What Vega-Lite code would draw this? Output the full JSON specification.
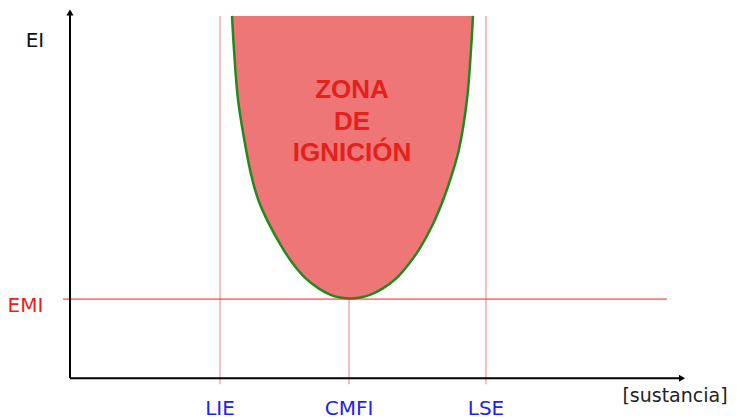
{
  "$schema": "https://vega.github.io/schema/vega-lite/v6.json",
  "width": 738,
  "height": 419,
  "autosize": {"type": "fit", "contains": "padding"},
  "padding": 0,
  "background": "white",
  "config": {"view": {"stroke": null}},
  "data": {"values": [{}]},
  "datasets": {
    "zone": [
      {"y": 36.4, "xl": 16.2, "xr": 40.3},
      {"y": 33.0, "xl": 16.4, "xr": 40.1},
      {"y": 28.0, "xl": 16.8, "xr": 39.7},
      {"y": 23.0, "xl": 17.6, "xr": 38.9},
      {"y": 20.5, "xl": 18.1, "xr": 38.2},
      {"y": 18.0, "xl": 18.8, "xr": 37.35},
      {"y": 15.5, "xl": 19.9, "xr": 36.3},
      {"y": 13.0, "xl": 21.3, "xr": 34.95},
      {"y": 11.5, "xl": 22.3, "xr": 33.9},
      {"y": 10.0, "xl": 23.6, "xr": 32.6},
      {"y": 9.0, "xl": 24.9, "xr": 31.25},
      {"y": 8.4, "xl": 26.0, "xr": 30.05},
      {"y": 8.1, "xl": 27.0, "xr": 29.0},
      {"y": 8.0, "xl": 28.0, "xr": 28.0}
    ],
    "guides": [
      {"name": "LIE", "x": 15},
      {"name": "CMFI", "x": 27.9},
      {"name": "LSE", "x": 41.6}
    ]
  },
  "layer": [
    {
      "data": {"name": "guides"},
      "mark": {"type": "rule", "color": "#e49a9a", "strokeWidth": 1.2},
      "encoding": {
        "x": {"field": "x", "type": "quantitative", "scale": {"domain": [-7, 66.8], "nice": false, "zero": false}, "axis": null},
        "y": {"datum": 36.4, "type": "quantitative", "scale": {"domain": [-3.9, 38], "nice": false, "zero": false}, "axis": null},
        "y2": {"datum": -0.6}
      }
    },
    {
      "data": {"name": "zone"},
      "mark": {"type": "area", "orient": "horizontal", "interpolate": "catmull-rom", "color": "#ee7676", "opacity": 1},
      "encoding": {
        "y": {"field": "y", "type": "quantitative"},
        "x": {"field": "xl", "type": "quantitative"},
        "x2": {"field": "xr"}
      }
    },
    {
      "data": {"name": "zone"},
      "transform": [
        {"fold": ["xl", "xr"], "as": ["side", "x"]},
        {"filter": "!(datum.side == 'xr' && datum.y == 8)"}
      ],
      "mark": {"type": "line", "interpolate": "catmull-rom", "color": "#1f8a1f", "strokeWidth": 2.5},
      "encoding": {
        "x": {"field": "x", "type": "quantitative"},
        "y": {"field": "y", "type": "quantitative"}
      }
    },
    {
      "mark": {"type": "rule", "color": "#f52020", "strokeWidth": 1},
      "encoding": {
        "y": {"datum": 7.95, "type": "quantitative"},
        "x": {"datum": -0.7, "type": "quantitative"},
        "x2": {"datum": 59.7}
      }
    },
    {
      "mark": {"type": "rule", "color": "black", "strokeWidth": 2},
      "encoding": {
        "x": {"datum": 0, "type": "quantitative"},
        "y": {"datum": 0, "type": "quantitative"},
        "y2": {"datum": 36.6}
      }
    },
    {
      "mark": {"type": "rule", "color": "black", "strokeWidth": 2},
      "encoding": {
        "y": {"datum": 0, "type": "quantitative"},
        "x": {"datum": 0, "type": "quantitative"},
        "x2": {"datum": 61.0}
      }
    },
    {
      "mark": {"type": "point", "shape": "triangle-up", "filled": true, "color": "black", "size": 50, "opacity": 1},
      "encoding": {
        "x": {"datum": 0, "type": "quantitative"},
        "y": {"datum": 36.75, "type": "quantitative"}
      }
    },
    {
      "mark": {"type": "point", "shape": "triangle-right", "filled": true, "color": "black", "size": 50, "opacity": 1},
      "encoding": {
        "x": {"datum": 61.2, "type": "quantitative"},
        "y": {"datum": 0, "type": "quantitative"}
      }
    },
    {
      "data": {"name": "guides"},
      "mark": {"type": "text", "font": "DejaVu Sans", "fontSize": 20, "color": "#2222ee", "align": "center", "baseline": "alphabetic"},
      "encoding": {
        "x": {"field": "x", "type": "quantitative"},
        "y": {"datum": -3.7, "type": "quantitative"},
        "text": {"field": "name"}
      }
    },
    {
      "mark": {"type": "text", "font": "DejaVu Sans", "fontSize": 20, "color": "#f01c1c", "align": "center", "baseline": "alphabetic", "text": "EMI"},
      "encoding": {
        "x": {"datum": -4.45, "type": "quantitative"},
        "y": {"datum": 6.7, "type": "quantitative"}
      }
    },
    {
      "mark": {"type": "text", "font": "DejaVu Sans", "fontSize": 20, "color": "#111111", "align": "center", "baseline": "alphabetic", "text": "EI"},
      "encoding": {
        "x": {"datum": -3.5, "type": "quantitative"},
        "y": {"datum": 33.3, "type": "quantitative"}
      }
    },
    {
      "mark": {"type": "text", "font": "DejaVu Sans", "fontSize": 19, "color": "#222222", "align": "center", "baseline": "alphabetic", "text": "[sustancia]"},
      "encoding": {
        "x": {"datum": 60.5, "type": "quantitative"},
        "y": {"datum": -2.4, "type": "quantitative"}
      }
    },
    {
      "mark": {"type": "text", "font": "Liberation Sans", "fontWeight": "bold", "fontSize": 26, "color": "#e3211d", "align": "center", "baseline": "alphabetic", "lineHeight": 31.7, "text": ["ZONA", "DE", "IGNICIÓN"]},
      "encoding": {
        "x": {"datum": 28.2, "type": "quantitative"},
        "y": {"datum": 28.17, "type": "quantitative"}
      }
    }
  ]
}
